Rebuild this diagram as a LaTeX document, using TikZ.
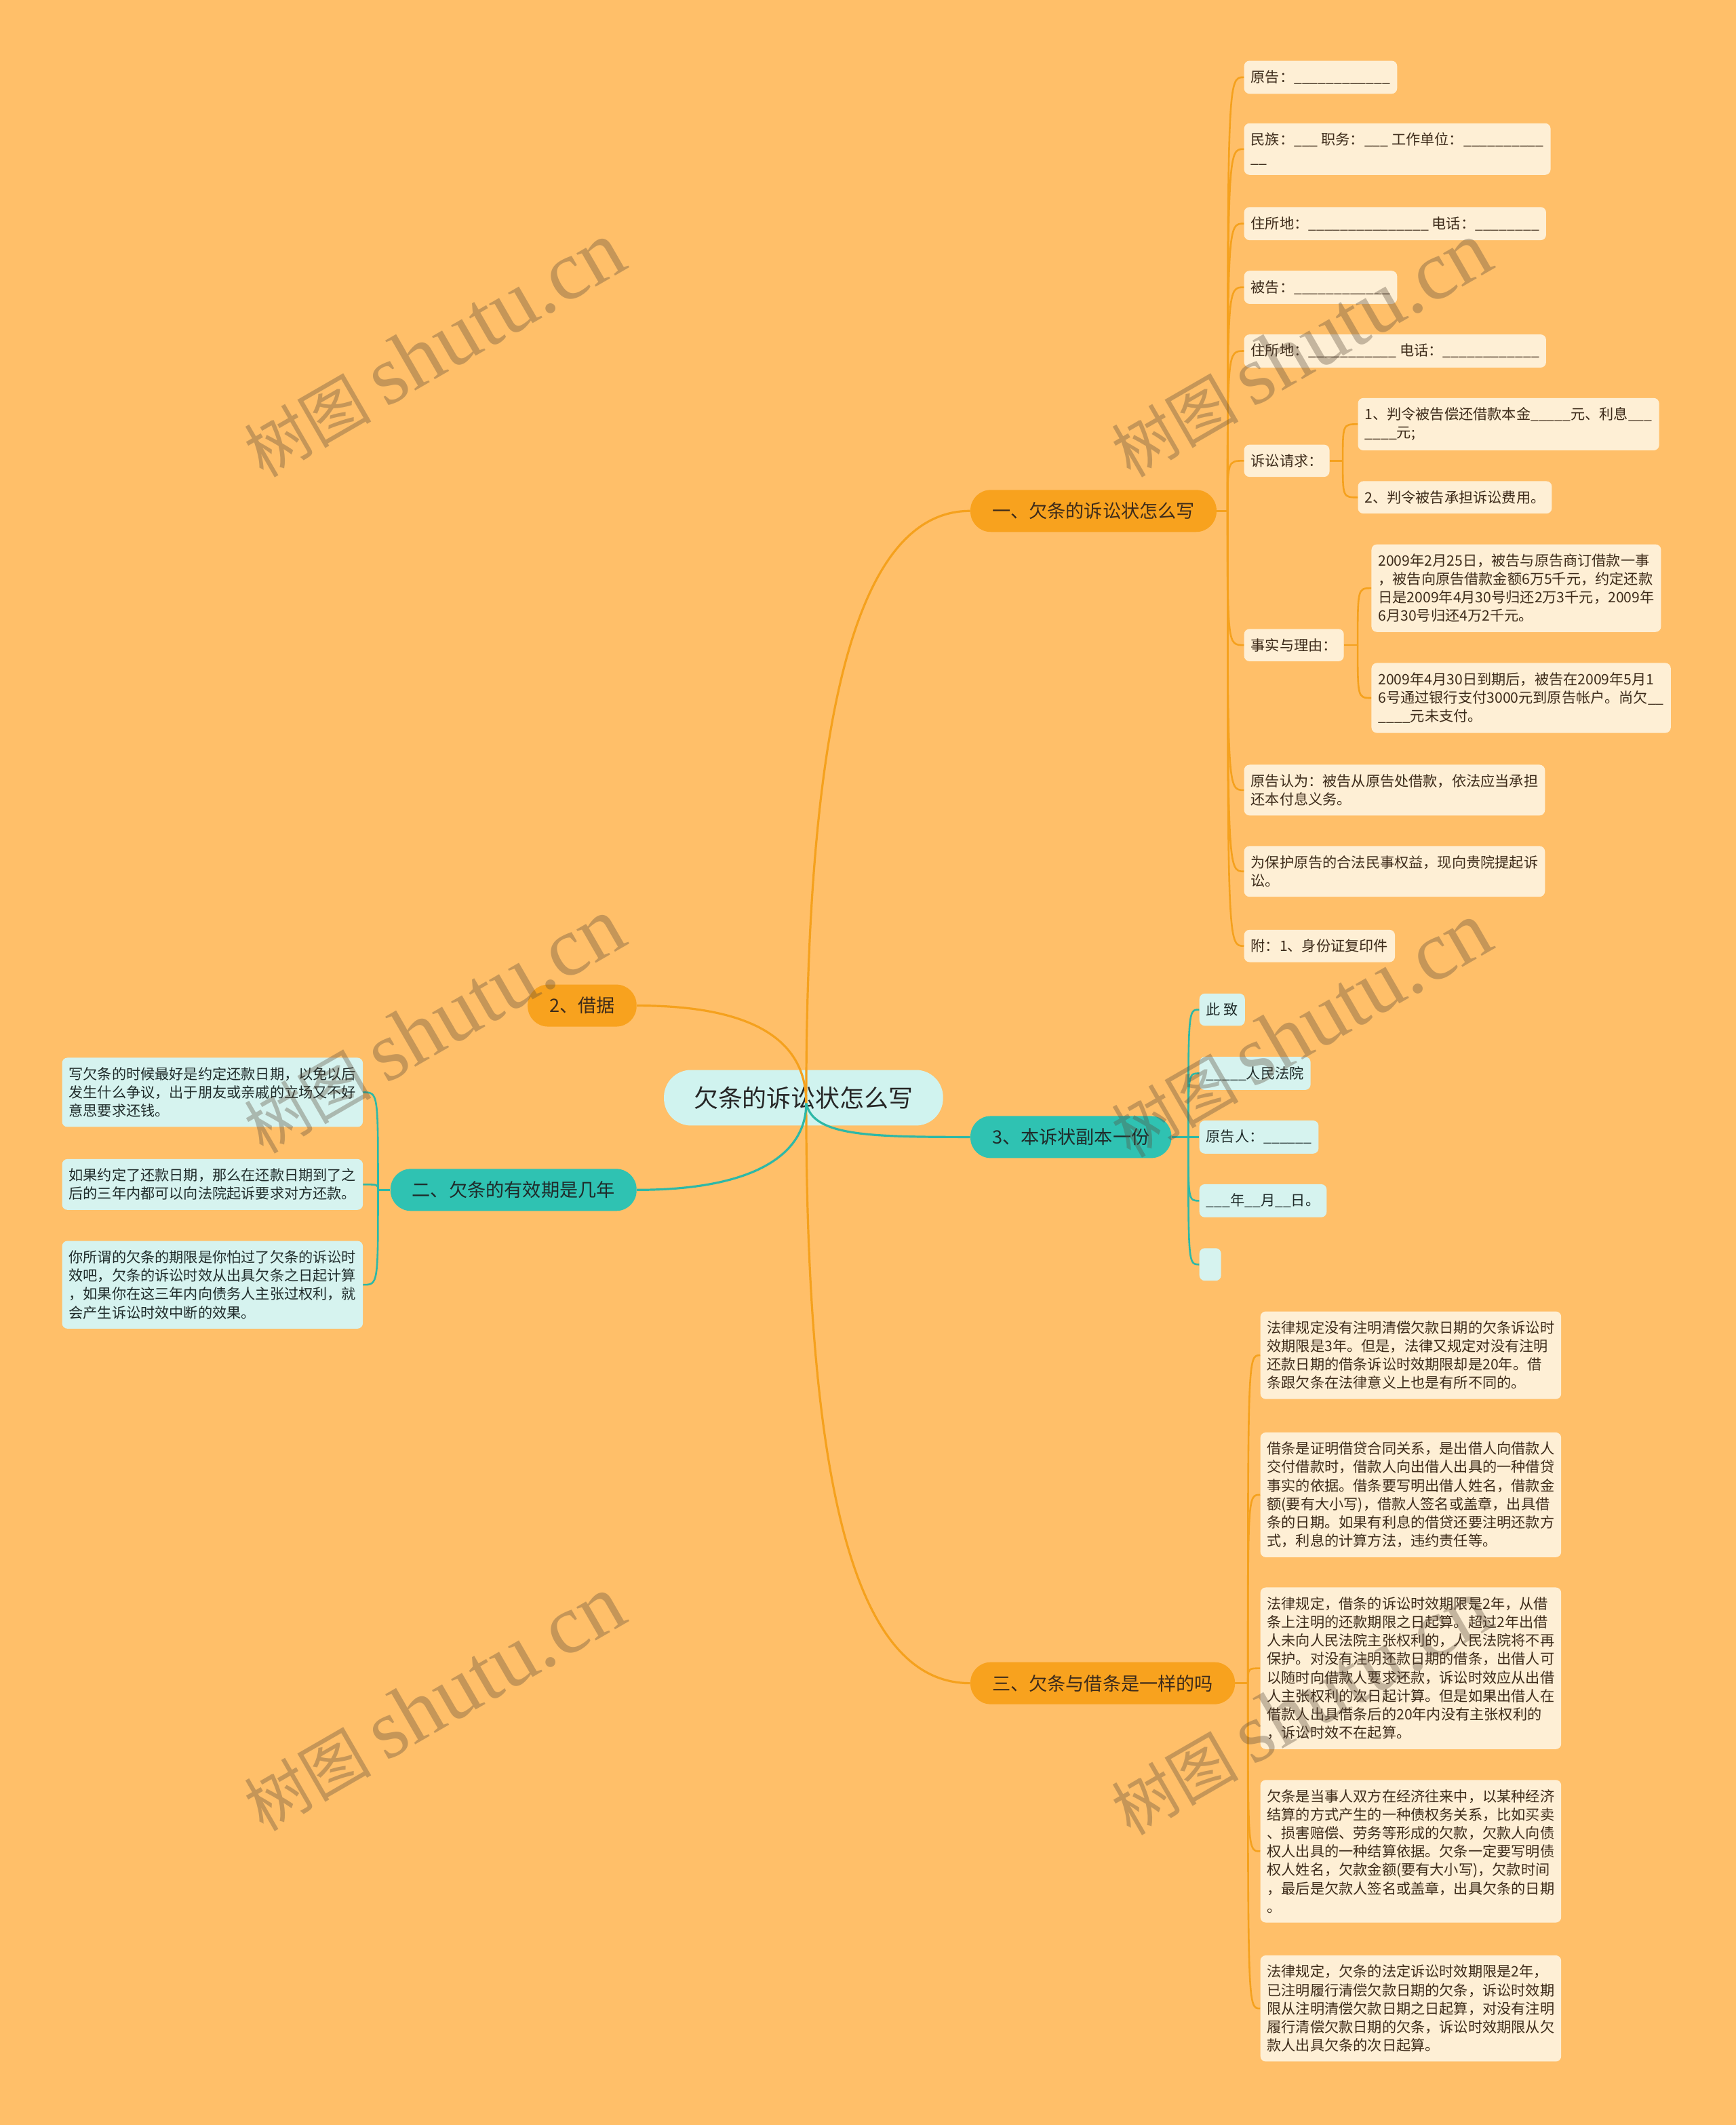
\documentclass[tikz,border=0pt]{standalone}
\usepackage{fontspec}
\setmainfont{Noto Sans CJK SC}
\newfontfamily\wmfont{Liberation Serif}

\definecolor{bgc}{HTML}{FFBF69}
\definecolor{ornode}{HTML}{F8A21E}
\definecolor{tlnode}{HTML}{2FC2B2}
\definecolor{rootc}{HTML}{D0F3EF}
\definecolor{orleaf}{HTML}{FEEFD5}
\definecolor{tlleaf}{HTML}{D6F3EF}
\definecolor{orline}{HTML}{F5A11D}
\definecolor{tlline}{HTML}{2DB8A7}
\definecolor{ortext}{HTML}{3D2B1A}
\definecolor{tltext}{HTML}{1F2B2A}
\definecolor{wmc}{HTML}{5A4A3A}

\newcommand{\fillin}[1]{\foreach \ii in {1,...,#1}{\_}}
\newcommand{\wmark}{\fontsize{47}{47}\selectfont 树图 {\wmfont\fontsize{62}{62}\selectfont shutu.cn}}

\begin{document}
\begin{tikzpicture}[x=1pt,y=-1pt,
	root/.style={fill=rootc, rounded corners=20pt, minimum height=41pt, inner xsep=22pt, text=black!85, font=\fontsize{18}{22}\selectfont},
	obr/.style={fill=ornode, rounded corners=15pt, minimum height=31pt, inner xsep=16pt, text=ortext, font=\fontsize{13.6}{16}\selectfont},
	tbr/.style={obr, fill=tlnode, text=tltext},
	oleaf/.style={fill=orleaf, rounded corners=4pt, inner xsep=5pt, inner ysep=7pt, align=left, text=ortext, font=\fontsize{10.6}{13.6}\selectfont},
	tleaf/.style={oleaf, fill=tlleaf, text=tltext},
	oline/.style={draw=orline, line width=1.6pt},
	tline/.style={draw=tlline, line width=1.6pt},
	oedge/.style={draw=orline, line width=1.3pt},
	tedge/.style={draw=tlline, line width=1.3pt},
	wm/.style={rotate=30, text=wmc, text opacity=.35}]
	
	\fill[bgc] (0,0) rectangle (1281,1568);
	\useasboundingbox (0,0) rectangle (1281,1568);
	
	% centre
	\node[root] (root) at (593,810) {欠条的诉讼状怎么写};
	\coordinate (hub) at (595,814);
	
	\node[obr, anchor=west] (b1) at (716,377) {一、欠条的诉讼状怎么写};
	\node[tbr, anchor=west] (b2) at (716,839) {3、本诉状副本一份};
	\node[obr, anchor=west] (b3) at (716,1242) {三、欠条与借条是一样的吗};
	\node[obr, anchor=east] (b4) at (470,742) {2、借据};
	\node[tbr, anchor=east] (b5) at (470,878) {二、欠条的有效期是几年};
	
	\draw[oline] (hub) .. controls (595,500) and (640,377) .. (b1.west);
	\draw[oline] (hub) .. controls (595,1128) and (640,1242) .. (b3.west);
	\draw[tline] (hub) .. controls (600,838) and (640,839) .. (b2.west);
	\draw[oline] (b4.east) .. controls (560,742) and (595,770) .. (hub);
	\draw[tline] (b5.east) .. controls (560,878) and (595,850) .. (hub);
	
	% first branch
	\coordinate (j1) at (906,377);
	\node[oleaf, anchor=west] (a1) at (918,57) {原告：\fillin{12}};
	\node[oleaf, anchor=west] (a2) at (918,110) {民族：\fillin{3} 职务：\fillin{3} 工作单位：\fillin{10}\\\fillin{2}};
	\node[oleaf, anchor=west] (a3) at (918,165) {住所地：\fillin{15} 电话：\fillin{8}};
	\node[oleaf, anchor=west] (a4) at (918,212) {被告：\fillin{12}};
	\node[oleaf, anchor=west] (a5) at (918,259) {住所地：\fillin{11} 电话：\fillin{12}};
	\node[oleaf, anchor=west] (a6) at (918,340) {诉讼请求：};
	\node[oleaf, anchor=west] (a7) at (1002,313) {1、判令被告偿还借款本金\fillin{5}元、利息\fillin{3}\\\fillin{4}元;};
	\node[oleaf, anchor=west] (a8) at (1002,367) {2、判令被告承担诉讼费用。};
	\node[oleaf, anchor=west] (a9) at (918,476) {事实与理由：};
	\node[oleaf, anchor=west] (a10) at (1012,434) {2009年2月25日，被告与原告商订借款一事\\，被告向原告借款金额6万5千元，约定还款\\日是2009年4月30号归还2万3千元，2009年\\6月30号归还4万2千元。};
	\node[oleaf, anchor=west] (a11) at (1012,515) {2009年4月30日到期后，被告在2009年5月1\\6号通过银行支付3000元到原告帐户。尚欠\fillin{2}\\\fillin{4}元未支付。};
	\node[oleaf, anchor=west] (a12) at (918,583) {原告认为：被告从原告处借款，依法应当承担\\还本付息义务。};
	\node[oleaf, anchor=west] (a13) at (918,643) {为保护原告的合法民事权益，现向贵院提起诉\\讼。};
	\node[oleaf, anchor=west] (a14) at (918,698) {附：1、身份证复印件};
	\coordinate (j6) at (991,340);
	\coordinate (j9) at (1002,476);
	
	\draw[oline] (b1.east) -- (j1);
	\draw[oedge] (j1) .. controls (j1 |- a1.west) .. (a1.west);
	\draw[oedge] (j1) .. controls (j1 |- a2.west) .. (a2.west);
	\draw[oedge] (j1) .. controls (j1 |- a3.west) .. (a3.west);
	\draw[oedge] (j1) .. controls (j1 |- a4.west) .. (a4.west);
	\draw[oedge] (j1) .. controls (j1 |- a5.west) .. (a5.west);
	\draw[oedge] (j1) .. controls (j1 |- a6.west) .. (a6.west);
	\draw[oedge] (j1) .. controls (j1 |- a9.west) .. (a9.west);
	\draw[oedge] (j1) .. controls (j1 |- a12.west) .. (a12.west);
	\draw[oedge] (j1) .. controls (j1 |- a13.west) .. (a13.west);
	\draw[oedge] (j1) .. controls (j1 |- a14.west) .. (a14.west);
	\draw[oedge] (a6.east) -- (j6);
	\draw[oedge] (j6) .. controls (j6 |- a7.west) .. (a7.west);
	\draw[oedge] (j6) .. controls (j6 |- a8.west) .. (a8.west);
	\draw[oedge] (a9.east) -- (j9);
	\draw[oedge] (j9) .. controls (j9 |- a10.west) .. (a10.west);
	\draw[oedge] (j9) .. controls (j9 |- a11.west) .. (a11.west);
	
	% second branch
	\coordinate (j2) at (877,839);
	\node[tleaf, anchor=west] (e1) at (885,745) {此 致};
	\node[tleaf, anchor=west] (e2) at (885,792) {\fillin{5}人民法院};
	\node[tleaf, anchor=west] (e3) at (885,839) {原告人：\fillin{6}};
	\node[tleaf, anchor=west] (e4) at (885,886) {\fillin{3}年\fillin{2}月\fillin{2}日。};
	\node[tleaf, anchor=west, minimum width=16pt, minimum height=24pt] (e5) at (885,933) {};
	
	\draw[tline] (b2.east) -- (j2);
	\draw[tedge] (j2) .. controls (j2 |- e1.west) .. (e1.west);
	\draw[tedge] (j2) .. controls (j2 |- e2.west) .. (e2.west);
	\draw[tedge] (j2) -- (e3.west);
	\draw[tedge] (j2) .. controls (j2 |- e4.west) .. (e4.west);
	\draw[tedge] (j2) .. controls (j2 |- e5.west) .. (e5.west);
	
	% third branch
	\coordinate (j3) at (921,1242);
	\node[oleaf, anchor=west] (d1) at (930,1000) {法律规定没有注明清偿欠款日期的欠条诉讼时\\效期限是3年。但是，法律又规定对没有注明\\还款日期的借条诉讼时效期限却是20年。借\\条跟欠条在法律意义上也是有所不同的。};
	\node[oleaf, anchor=west] (d2) at (930,1103) {借条是证明借贷合同关系，是出借人向借款人\\交付借款时，借款人向出借人出具的一种借贷\\事实的依据。借条要写明出借人姓名，借款金\\额(要有大小写)，借款人签名或盖章，出具借\\条的日期。如果有利息的借贷还要注明还款方\\式，利息的计算方法，违约责任等。};
	\node[oleaf, anchor=west] (d3) at (930,1231) {法律规定，借条的诉讼时效期限是2年，从借\\条上注明的还款期限之日起算。超过2年出借\\人未向人民法院主张权利的，人民法院将不再\\保护。对没有注明还款日期的借条，出借人可\\以随时向借款人要求还款，诉讼时效应从出借\\人主张权利的次日起计算。但是如果出借人在\\借款人出具借条后的20年内没有主张权利的\\，诉讼时效不在起算。};
	\node[oleaf, anchor=west] (d4) at (930,1366) {欠条是当事人双方在经济往来中，以某种经济\\结算的方式产生的一种债权务关系，比如买卖\\、损害赔偿、劳务等形成的欠款，欠款人向债\\权人出具的一种结算依据。欠条一定要写明债\\权人姓名，欠款金额(要有大小写)，欠款时间\\，最后是欠款人签名或盖章，出具欠条的日期\\。};
	\node[oleaf, anchor=west] (d5) at (930,1482) {法律规定，欠条的法定诉讼时效期限是2年，\\已注明履行清偿欠款日期的欠条，诉讼时效期\\限从注明清偿欠款日期之日起算，对没有注明\\履行清偿欠款日期的欠条，诉讼时效期限从欠\\款人出具欠条的次日起算。};
	
	\draw[oline] (b3.east) -- (j3);
	\draw[oedge] (j3) .. controls (j3 |- d1.west) .. (d1.west);
	\draw[oedge] (j3) .. controls (j3 |- d2.west) .. (d2.west);
	\draw[oedge] (j3) .. controls (j3 |- d3.west) .. (d3.west);
	\draw[oedge] (j3) .. controls (j3 |- d4.west) .. (d4.west);
	\draw[oedge] (j3) .. controls (j3 |- d5.west) .. (d5.west);
	
	% left branch
	\coordinate (j5) at (279,878);
	\node[tleaf, anchor=east] (c1) at (268,806) {写欠条的时候最好是约定还款日期，以免以后\\发生什么争议，出于朋友或亲戚的立场又不好\\意思要求还钱。};
	\node[tleaf, anchor=east] (c2) at (268,874) {如果约定了还款日期，那么在还款日期到了之\\后的三年内都可以向法院起诉要求对方还款。};
	\node[tleaf, anchor=east] (c3) at (268,948) {你所谓的欠条的期限是你怕过了欠条的诉讼时\\效吧，欠条的诉讼时效从出具欠条之日起计算\\，如果你在这三年内向债务人主张过权利，就\\会产生诉讼时效中断的效果。};
	
	\draw[tline] (b5.west) -- (j5);
	\draw[tedge] (j5) .. controls (j5 |- c1.east) .. (c1.east);
	\draw[tedge] (j5) .. controls (j5 |- c2.east) .. (c2.east);
	\draw[tedge] (j5) .. controls (j5 |- c3.east) .. (c3.east);
	
	% watermarks
	\node[wm] (w1) at (320,258) {\wmark};
	\node[wm] (w2) at (960,258) {\wmark};
	\node[wm] (w3) at (320,757) {\wmark};
	\node[wm] (w4) at (960,760) {\wmark};
	\node[wm] (w5) at (320,1257) {\wmark};
	\node[wm] (w6) at (960,1260) {\wmark};
\end{tikzpicture}
\end{document}
